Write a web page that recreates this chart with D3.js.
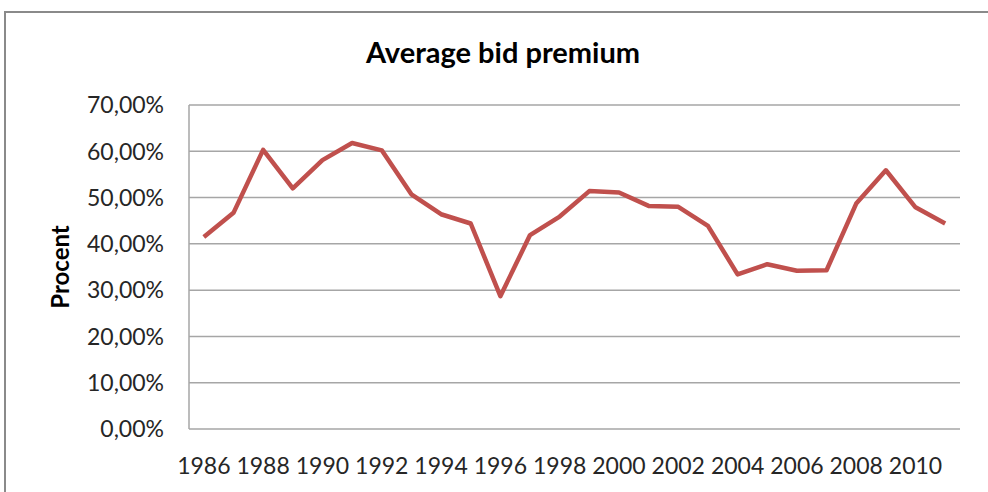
<!DOCTYPE html>
<html>
<head>
<meta charset="utf-8">
<script src="https://cdn.jsdelivr.net/npm/d3@7"></script>
<style>
  body { margin: 0; background: #fff; }
  text { font-family: Lato, "Open Sans", sans-serif; fill: #262626; }
</style>
</head>
<body>
<script>
var fullWidth = 988
var fullHeight = 492
var margin = { top: 105, right: 28, bottom: 63, left: 189 }

// values
var years = [1986, 1987, 1988, 1989, 1990, 1991, 1992, 1993, 1994, 1995, 1996, 1997, 1998,
  1999, 2000, 2001, 2002, 2003, 2004, 2005, 2006, 2007, 2008, 2009, 2010, 2011]
var premium = [0.415, 0.467, 0.603, 0.520, 0.581, 0.618, 0.602, 0.507, 0.464, 0.444, 0.287,
  0.419, 0.459, 0.514, 0.511, 0.482, 0.480, 0.439, 0.334, 0.356, 0.342, 0.343, 0.487,
  0.559, 0.479, 0.444]
var yTicks = [0, 0.1, 0.2, 0.3, 0.4, 0.5, 0.6, 0.7]
var xTickYears = [1986, 1988, 1990, 1992, 1994, 1996, 1998, 2000, 2002, 2004, 2006, 2008, 2010]

var svg = d3.select('body')
  .append('svg')
  .attr('width', fullWidth)
  .attr('height', fullHeight)

// outer chart frame (runs off the right and bottom)
svg.append('rect')
  .attr('x', 5)
  .attr('y', 12)
  .attr('width', 1100)
  .attr('height', 600)
  .style('fill', 'none')
  .style('stroke', '#8a8a8a')
  .style('stroke-width', 2)

var x = d3.scaleBand()
  .domain(years)
  .range([margin.left, fullWidth - margin.right])
  .paddingInner(0)
  .paddingOuter(0)

var y = d3.scaleLinear()
  .domain([0, 0.7])
  .range([fullHeight - margin.bottom, margin.top])

var locale = d3.formatLocale({ decimal: ',', thousands: '.', grouping: [3], currency: ['', '€'] })
var pct = locale.format('.2%')

// gridlines
svg.append('g')
  .selectAll('line')
  .data(yTicks)
  .join('line')
  .attr('x1', margin.left)
  .attr('x2', fullWidth - margin.right)
  .attr('y1', (d) => y(d))
  .attr('y2', (d) => y(d))
  .style('stroke', '#a6a6a6')
  .style('stroke-width', 1.5)

// left axis line
svg.append('line')
  .attr('x1', margin.left)
  .attr('x2', margin.left)
  .attr('y1', y(0.7))
  .attr('y2', y(0))
  .style('stroke', '#a6a6a6')
  .style('stroke-width', 1.5)

// y labels
svg.append('g')
  .selectAll('text')
  .data(yTicks)
  .join('text')
  .attr('x', 164)
  .attr('y', (d) => y(d))
  .attr('dy', '0.36em')
  .attr('text-anchor', 'end')
  .style('font-size', '23px')
  .text((d) => pct(d))

// x labels
svg.append('g')
  .selectAll('text')
  .data(xTickYears)
  .join('text')
  .attr('x', (d) => x(d) + x.bandwidth() / 2)
  .attr('y', 474)
  .attr('text-anchor', 'middle')
  .style('font-size', '23px')
  .text((d) => d)

// title
svg.append('text')
  .attr('x', 503)
  .attr('y', 63)
  .attr('text-anchor', 'middle')
  .style('font-size', '29px')
  .style('font-weight', 'bold')
  .style('fill', '#000')
  .text('Average bid premium')

// axis title
svg.append('text')
  .attr('transform', 'translate(69,267) rotate(-90)')
  .attr('text-anchor', 'middle')
  .style('font-size', '24px')
  .style('font-weight', 'bold')
  .style('fill', '#000')
  .text('Procent')

var line = d3.line()
  .x((d, i) => x(years[i]) + x.bandwidth() / 2)
  .y((d) => y(d))

svg.append('path')
  .datum(premium)
  .attr('d', line)
  .style('fill', 'none')
  .style('stroke', '#c0504d')
  .style('stroke-width', 4.5)
  .style('stroke-linejoin', 'round')
  .style('stroke-linecap', 'butt')
</script>
</body>
</html>
